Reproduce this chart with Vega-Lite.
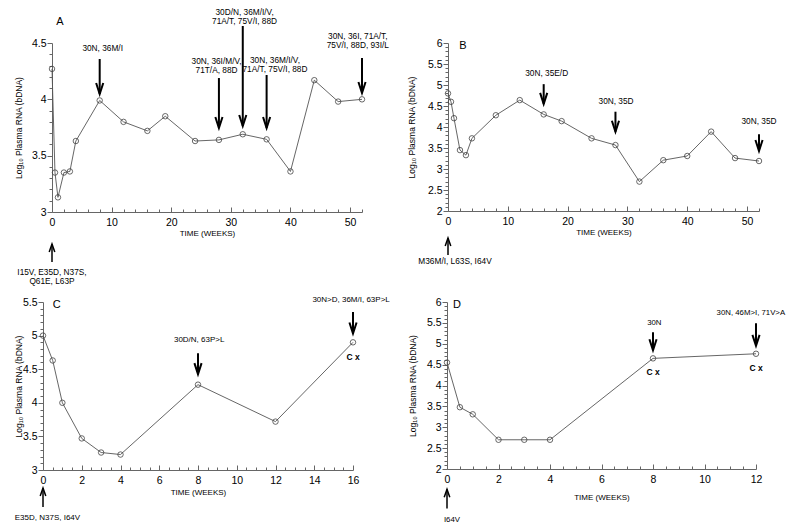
{
"$schema": "https://vega.github.io/schema/vega-lite/v6.json",
"padding": {"left": 14, "top": 7, "right": 0, "bottom": 0},
"background": "white",
"config": {"font": "Liberation Sans", "view": {"stroke": null},
  "axis": {"domainColor": "#666", "tickColor": "#666", "labelColor": "#000", "titleColor": "#000", "labelFont": "Liberation Sans", "titleFont": "Liberation Sans", "titleFontWeight": "normal", "grid": false, "labelFontSize": 10.5, "titleFontSize": 8.5, "labelFlush": false, "labelOverlap": false, "domainWidth": 1, "tickWidth": 1}},
"datasets": {
 "pts": [
  {"panel":"A","week":0,"rna":4.27},{"panel":"A","week":0.5,"rna":3.35},{"panel":"A","week":1,"rna":3.13},{"panel":"A","week":2,"rna":3.35},{"panel":"A","week":3,"rna":3.36},{"panel":"A","week":4,"rna":3.63},{"panel":"A","week":8,"rna":3.99},{"panel":"A","week":12,"rna":3.8},{"panel":"A","week":16,"rna":3.72},{"panel":"A","week":19,"rna":3.85},{"panel":"A","week":24,"rna":3.63},{"panel":"A","week":28,"rna":3.64},{"panel":"A","week":32,"rna":3.69},{"panel":"A","week":36,"rna":3.645},{"panel":"A","week":40,"rna":3.36},{"panel":"A","week":44,"rna":4.17},{"panel":"A","week":48,"rna":3.98},{"panel":"A","week":52,"rna":4.0},
  {"panel":"B","week":0,"rna":4.8},{"panel":"B","week":0.5,"rna":4.6},{"panel":"B","week":1,"rna":4.21},{"panel":"B","week":2,"rna":3.45},{"panel":"B","week":3,"rna":3.33},{"panel":"B","week":4,"rna":3.73},{"panel":"B","week":8,"rna":4.28},{"panel":"B","week":12,"rna":4.64},{"panel":"B","week":16,"rna":4.3},{"panel":"B","week":19,"rna":4.14},{"panel":"B","week":24,"rna":3.73},{"panel":"B","week":28,"rna":3.57},{"panel":"B","week":32,"rna":2.7},{"panel":"B","week":36,"rna":3.21},{"panel":"B","week":40,"rna":3.31},{"panel":"B","week":44,"rna":3.89},{"panel":"B","week":48,"rna":3.26},{"panel":"B","week":52,"rna":3.19},
  {"panel":"C","week":0,"rna":5.0},{"panel":"C","week":0.5,"rna":4.63},{"panel":"C","week":1,"rna":4.0},{"panel":"C","week":2,"rna":3.47},{"panel":"C","week":3,"rna":3.26},{"panel":"C","week":4,"rna":3.23},{"panel":"C","week":8,"rna":4.27},{"panel":"C","week":12,"rna":3.72},{"panel":"C","week":16,"rna":4.9},
  {"panel":"D","week":0,"rna":4.55},{"panel":"D","week":0.5,"rna":3.48},{"panel":"D","week":1,"rna":3.31},{"panel":"D","week":2,"rna":2.7},{"panel":"D","week":3,"rna":2.7},{"panel":"D","week":4,"rna":2.7},{"panel":"D","week":8,"rna":4.65},{"panel":"D","week":12,"rna":4.76}
 ],
 "notes": [
  {"panel":"A","dir":"down","week":8,"textX":8.5,"label":"30N, 36M/I","textY":4.447,"tail":4.358,"tip":4.047},
  {"panel":"A","dir":"down","week":28,"textX":27.6,"label":"30N, 36I/M/V,\n71T/A, 88D","textY":4.327,"tail":4.189,"tip":3.746},
  {"panel":"A","dir":"down","week":32,"textX":32.3,"label":"30D/N, 36M/I/V,\n71A/T, 75V/I, 88D","textY":4.77,"tail":4.651,"tip":3.763},
  {"panel":"A","dir":"down","week":36,"textX":37.4,"label":"30N, 36M/I/V,\n71A/T, 75V/I, 88D","textY":4.336,"tail":4.216,"tip":3.746},
  {"panel":"A","dir":"down","week":52,"textX":51.3,"label":"30N, 36I, 71A/T,\n75V/I, 88D, 93I/L","textY":4.549,"tail":4.367,"tip":4.056},
  {"panel":"A","dir":"up","week":0,"textX":0,"label":"I15V, E35D, N37S,\nQ61E, L63P","textY":2.459,"tail":2.556,"tip":2.716},
  {"panel":"B","dir":"down","week":16,"textX":16.5,"label":"30N, 35E/D","textY":5.262,"tail":5.02,"tip":4.55},
  {"panel":"B","dir":"down","week":28,"textX":28.1,"label":"30N, 35D","textY":4.6,"tail":4.364,"tip":3.888},
  {"panel":"B","dir":"down","week":52,"textX":52,"label":"30N, 35D","textY":4.126,"tail":3.826,"tip":3.429},
  {"panel":"B","dir":"up","week":0,"textX":1.17,"label":"M36M/I, L63S, I64V","textY":0.786,"tail":0.952,"tip":1.357},
  {"panel":"C","dir":"down","week":8,"textX":8.06,"label":"30D/N, 63P>L","textY":4.932,"tail":4.738,"tip":4.426},
  {"panel":"C","dir":"down","week":16,"textX":15.9,"label":"30N>D, 36M/I, 63P>L","textY":5.536,"tail":5.352,"tip":5.031},
  {"panel":"C","dir":"up","week":0,"textX":0.23,"label":"E35D, N37S, I64V","textY":2.287,"tail":2.45,"tip":2.733},
  {"panel":"D","dir":"down","week":8,"textX":8.05,"label":"30N","textY":5.498,"tail":5.273,"tip":4.844},
  {"panel":"D","dir":"down","week":12,"textX":11.8,"label":"30N, 46M>I, 71V>A","textY":5.74,"tail":5.49,"tip":4.95},
  {"panel":"D","dir":"up","week":0,"textX":0.19,"label":"I64V","textY":0.788,"tail":1.055,"tip":1.515}
 ],
 "tags": [
  {"panel":"A","kind":"letter","text":"A","week":1.34,"level":4.686},
  {"panel":"B","kind":"letter","text":"B","week":2.5,"level":5.93},
  {"panel":"C","kind":"letter","text":"C","week":0.71,"level":5.45},
  {"panel":"D","kind":"letter","text":"D","week":0.39,"level":5.92},
  {"panel":"C","kind":"cx","text":"C x","week":16,"level":4.675},
  {"panel":"D","kind":"cx","text":"C x","week":8,"level":4.32},
  {"panel":"D","kind":"cx","text":"C x","week":12,"level":4.42}
 ]
},
"concat": [
 {"hconcat": [
  {"width": 9, "height": 1, "data": {"values": []}, "mark": "point"},
  {"hconcat": [
  {"width": 310, "height": 169,
   "resolve": {"axis": {"x": "independent", "y": "independent"}},
   "layer": [
    {"data": {"name": "pts"}, "transform": [{"filter": "datum.panel == 'A'"}],
     "mark": {"type": "line", "color": "#555", "strokeWidth": 0.9},
     "encoding": {
      "x": {"field": "week", "type": "quantitative", "scale": {"domain": [0, 52], "nice": false, "zero": false},
            "axis": {"orient": "bottom", "values": [0,10,20,30,40,50], "format": "d", "tickSize": -5, "labelPadding": 10, "title": "TIME (WEEKS)", "titleFontSize": 8, "titlePadding": 2}},
      "y": {"field": "rna", "type": "quantitative", "scale": {"domain": [3, 4.5], "nice": false, "zero": false},
            "axis": {"orient": "left", "values": [3,3.5,4,4.5], "format": "~g", "tickSize": 5, "labelPadding": 1, "title": "Log₁₀ Plasma RNA (bDNA)", "titlePadding": 8}}}},
    {"data": {"name": "pts"}, "transform": [{"filter": "datum.panel == 'A'"}],
     "mark": {"type": "point", "shape": "circle", "size": 30, "filled": false, "stroke": "#444", "strokeWidth": 0.8, "opacity": 1},
     "encoding": {
      "x": {"field": "week", "type": "quantitative", "scale": {"domain": [0, 52], "nice": false, "zero": false},
            "axis": {"orient": "bottom", "values": [2,4,6,8,12,14,16,18,22,24,26,28,32,34,36,38,42,44,46,48,52], "tickSize": -3, "labels": false, "domain": false, "title": null}},
      "y": {"field": "rna", "type": "quantitative", "scale": {"domain": [3, 4.5], "nice": false, "zero": false},
            "axis": {"orient": "left", "values": [3.1,3.2,3.3,3.4,3.6,3.7,3.8,3.9,4.1,4.2,4.3,4.4], "tickSize": 3, "labels": false, "domain": false, "title": null}}}},
    {"data": {"name": "notes"}, "transform": [{"filter": "datum.panel == 'A' && datum.dir == 'down'"}],
     "mark": {"type": "rule", "color": "#000", "strokeWidth": 2},
     "encoding": {"x": {"field": "week", "type": "quantitative", "scale": {"domain": [0, 52], "nice": false, "zero": false}, "axis": null},
                  "y": {"field": "tail", "type": "quantitative", "scale": {"domain": [3, 4.5], "nice": false, "zero": false}, "axis": null},
                  "y2": {"field": "tip"}}},
    {"data": {"name": "notes"}, "transform": [{"filter": "datum.panel == 'A' && datum.dir == 'down'"}],
     "mark": {"type": "point", "shape": "M-0.65,-2L0,0L0.65,-2", "size": 121, "filled": false, "stroke": "#000", "strokeWidth": 2, "opacity": 1},
     "encoding": {"x": {"field": "week", "type": "quantitative", "scale": {"domain": [0, 52], "nice": false, "zero": false}, "axis": null},
                  "y": {"field": "tip", "type": "quantitative", "scale": {"domain": [3, 4.5], "nice": false, "zero": false}, "axis": null}}},
    {"data": {"name": "notes"}, "transform": [{"filter": "datum.panel == 'A'"}],
     "mark": {"type": "text", "fontSize": 8.3, "lineHeight": 9, "baseline": "middle", "align": "center", "lineBreak": "\n", "color": "#000"},
     "encoding": {"x": {"field": "textX", "type": "quantitative", "scale": {"domain": [0, 52], "nice": false, "zero": false}, "axis": null},
                  "y": {"field": "textY", "type": "quantitative", "scale": {"domain": [3, 4.5], "nice": false, "zero": false}, "axis": null},
                  "text": {"field": "label"}}},
    {"data": {"name": "notes"}, "transform": [{"filter": "datum.panel == 'A' && datum.dir == 'up'"}],
     "mark": {"type": "rule", "color": "#000", "strokeWidth": 1.5},
     "encoding": {"x": {"field": "week", "type": "quantitative", "scale": {"domain": [0, 52], "nice": false, "zero": false}, "axis": null},
                  "y": {"field": "tail", "type": "quantitative", "scale": {"domain": [3, 4.5], "nice": false, "zero": false}, "axis": null},
                  "y2": {"field": "tip"}}},
    {"data": {"name": "notes"}, "transform": [{"filter": "datum.panel == 'A' && datum.dir == 'up'"}],
     "mark": {"type": "point", "shape": "M-0.7,2L0,0L0.7,2", "size": 64, "filled": false, "stroke": "#000", "strokeWidth": 1.5, "opacity": 1},
     "encoding": {"x": {"field": "week", "type": "quantitative", "scale": {"domain": [0, 52], "nice": false, "zero": false}, "axis": null},
                  "y": {"field": "tip", "type": "quantitative", "scale": {"domain": [3, 4.5], "nice": false, "zero": false}, "axis": null}}},
    {"data": {"name": "tags"}, "transform": [{"filter": "datum.panel == 'A'"}],
     "mark": {"type": "text", "fontSize": 11, "baseline": "middle", "align": "center", "color": "#000"},
     "encoding": {"x": {"field": "week", "type": "quantitative", "scale": {"domain": [0, 52], "nice": false, "zero": false}, "axis": null},
                  "y": {"field": "level", "type": "quantitative", "scale": {"domain": [3, 4.5], "nice": false, "zero": false}, "axis": null},
                  "text": {"field": "text"}}}
   ]},
  {"width": 311, "height": 168,
   "resolve": {"axis": {"x": "independent", "y": "independent"}},
   "layer": [
    {"data": {"name": "pts"}, "transform": [{"filter": "datum.panel == 'B'"}],
     "mark": {"type": "line", "color": "#555", "strokeWidth": 0.9},
     "encoding": {
      "x": {"field": "week", "type": "quantitative", "scale": {"domain": [0, 52], "nice": false, "zero": false},
            "axis": {"orient": "bottom", "values": [0,10,20,30,40,50], "format": "d", "tickSize": -5, "labelPadding": 10, "title": "TIME (WEEKS)", "titleFontSize": 8, "titlePadding": 2}},
      "y": {"field": "rna", "type": "quantitative", "scale": {"domain": [2, 6], "nice": false, "zero": false},
            "axis": {"orient": "left", "values": [2,2.5,3,3.5,4,4.5,5,5.5,6], "format": "~g", "tickSize": 5, "labelPadding": 1, "title": "Log₁₀ Plasma RNA (bDNA)", "titlePadding": 11}}}},
    {"data": {"name": "pts"}, "transform": [{"filter": "datum.panel == 'B'"}],
     "mark": {"type": "point", "shape": "circle", "size": 30, "filled": false, "stroke": "#444", "strokeWidth": 0.8, "opacity": 1},
     "encoding": {
      "x": {"field": "week", "type": "quantitative", "scale": {"domain": [0, 52], "nice": false, "zero": false},
            "axis": {"orient": "bottom", "values": [2,4,6,8,12,14,16,18,22,24,26,28,32,34,36,38,42,44,46,48,52], "tickSize": -3, "labels": false, "domain": false, "title": null}},
      "y": {"field": "rna", "type": "quantitative", "scale": {"domain": [2, 6], "nice": false, "zero": false},
            "axis": {"orient": "left", "values": [2.1,2.2,2.3,2.4,2.6,2.7,2.8,2.9,3.1,3.2,3.3,3.4,3.6,3.7,3.8,3.9,4.1,4.2,4.3,4.4,4.6,4.7,4.8,4.9,5.1,5.2,5.3,5.4,5.6,5.7,5.8,5.9], "tickSize": 3, "labels": false, "domain": false, "title": null}}}},
    {"data": {"name": "notes"}, "transform": [{"filter": "datum.panel == 'B' && datum.dir == 'down'"}],
     "mark": {"type": "rule", "color": "#000", "strokeWidth": 2},
     "encoding": {"x": {"field": "week", "type": "quantitative", "scale": {"domain": [0, 52], "nice": false, "zero": false}, "axis": null},
                  "y": {"field": "tail", "type": "quantitative", "scale": {"domain": [2, 6], "nice": false, "zero": false}, "axis": null},
                  "y2": {"field": "tip"}}},
    {"data": {"name": "notes"}, "transform": [{"filter": "datum.panel == 'B' && datum.dir == 'down'"}],
     "mark": {"type": "point", "shape": "M-0.65,-2L0,0L0.65,-2", "size": 121, "filled": false, "stroke": "#000", "strokeWidth": 2, "opacity": 1},
     "encoding": {"x": {"field": "week", "type": "quantitative", "scale": {"domain": [0, 52], "nice": false, "zero": false}, "axis": null},
                  "y": {"field": "tip", "type": "quantitative", "scale": {"domain": [2, 6], "nice": false, "zero": false}, "axis": null}}},
    {"data": {"name": "notes"}, "transform": [{"filter": "datum.panel == 'B'"}],
     "mark": {"type": "text", "fontSize": 8.3, "lineHeight": 9, "baseline": "middle", "align": "center", "lineBreak": "\n", "color": "#000"},
     "encoding": {"x": {"field": "textX", "type": "quantitative", "scale": {"domain": [0, 52], "nice": false, "zero": false}, "axis": null},
                  "y": {"field": "textY", "type": "quantitative", "scale": {"domain": [2, 6], "nice": false, "zero": false}, "axis": null},
                  "text": {"field": "label"}}},
    {"data": {"name": "notes"}, "transform": [{"filter": "datum.panel == 'B' && datum.dir == 'up'"}],
     "mark": {"type": "rule", "color": "#000", "strokeWidth": 1.5},
     "encoding": {"x": {"field": "week", "type": "quantitative", "scale": {"domain": [0, 52], "nice": false, "zero": false}, "axis": null},
                  "y": {"field": "tail", "type": "quantitative", "scale": {"domain": [2, 6], "nice": false, "zero": false}, "axis": null},
                  "y2": {"field": "tip"}}},
    {"data": {"name": "notes"}, "transform": [{"filter": "datum.panel == 'B' && datum.dir == 'up'"}],
     "mark": {"type": "point", "shape": "M-0.7,2L0,0L0.7,2", "size": 64, "filled": false, "stroke": "#000", "strokeWidth": 1.5, "opacity": 1},
     "encoding": {"x": {"field": "week", "type": "quantitative", "scale": {"domain": [0, 52], "nice": false, "zero": false}, "axis": null},
                  "y": {"field": "tip", "type": "quantitative", "scale": {"domain": [2, 6], "nice": false, "zero": false}, "axis": null}}},
    {"data": {"name": "tags"}, "transform": [{"filter": "datum.panel == 'B'"}],
     "mark": {"type": "text", "fontSize": 11, "baseline": "middle", "align": "center", "color": "#000"},
     "encoding": {"x": {"field": "week", "type": "quantitative", "scale": {"domain": [0, 52], "nice": false, "zero": false}, "axis": null},
                  "y": {"field": "level", "type": "quantitative", "scale": {"domain": [2, 6], "nice": false, "zero": false}, "axis": null},
                  "text": {"field": "text"}}}
   ]}
  ], "spacing": 86, "bounds": "flush"}
 ], "spacing": 0, "bounds": "flush"},
 {"hconcat": [
  {"width": 310, "height": 168,
   "resolve": {"axis": {"x": "independent", "y": "independent"}},
   "layer": [
    {"data": {"name": "pts"}, "transform": [{"filter": "datum.panel == 'C'"}],
     "mark": {"type": "line", "color": "#555", "strokeWidth": 0.9},
     "encoding": {
      "x": {"field": "week", "type": "quantitative", "scale": {"domain": [0, 16], "nice": false, "zero": false},
            "axis": {"orient": "bottom", "values": [0,2,4,6,8,10,12,14,16], "format": "d", "tickSize": -5, "labelPadding": 10, "title": "TIME (WEEKS)", "titleFontSize": 8, "titlePadding": 3}},
      "y": {"field": "rna", "type": "quantitative", "scale": {"domain": [3, 5.5], "nice": false, "zero": false},
            "axis": {"orient": "left", "values": [3,3.5,4,4.5,5,5.5], "format": "~g", "tickSize": 5, "labelPadding": 1, "title": "Log₁₀ Plasma RNA (bDNA)", "titlePadding": -1}}}},
    {"data": {"name": "pts"}, "transform": [{"filter": "datum.panel == 'C'"}],
     "mark": {"type": "point", "shape": "circle", "size": 30, "filled": false, "stroke": "#444", "strokeWidth": 0.8, "opacity": 1},
     "encoding": {
      "x": {"field": "week", "type": "quantitative", "scale": {"domain": [0, 16], "nice": false, "zero": false},
            "axis": {"orient": "bottom", "values": [0.5,1,1.5,2.5,3,3.5,4.5,5,5.5,6.5,7,7.5,8.5,9,9.5,10.5,11,11.5,12.5,13,13.5,14.5,15,15.5], "tickSize": -3, "labels": false, "domain": false, "title": null}},
      "y": {"field": "rna", "type": "quantitative", "scale": {"domain": [3, 5.5], "nice": false, "zero": false},
            "axis": {"orient": "left", "values": [3.1,3.2,3.3,3.4,3.6,3.7,3.8,3.9,4.1,4.2,4.3,4.4,4.6,4.7,4.8,4.9,5.1,5.2,5.3,5.4], "tickSize": 3, "labels": false, "domain": false, "title": null}}}},
    {"data": {"name": "notes"}, "transform": [{"filter": "datum.panel == 'C' && datum.dir == 'down'"}],
     "mark": {"type": "rule", "color": "#000", "strokeWidth": 2},
     "encoding": {"x": {"field": "week", "type": "quantitative", "scale": {"domain": [0, 16], "nice": false, "zero": false}, "axis": null},
                  "y": {"field": "tail", "type": "quantitative", "scale": {"domain": [3, 5.5], "nice": false, "zero": false}, "axis": null},
                  "y2": {"field": "tip"}}},
    {"data": {"name": "notes"}, "transform": [{"filter": "datum.panel == 'C' && datum.dir == 'down'"}],
     "mark": {"type": "point", "shape": "M-0.65,-2L0,0L0.65,-2", "size": 121, "filled": false, "stroke": "#000", "strokeWidth": 2, "opacity": 1},
     "encoding": {"x": {"field": "week", "type": "quantitative", "scale": {"domain": [0, 16], "nice": false, "zero": false}, "axis": null},
                  "y": {"field": "tip", "type": "quantitative", "scale": {"domain": [3, 5.5], "nice": false, "zero": false}, "axis": null}}},
    {"data": {"name": "notes"}, "transform": [{"filter": "datum.panel == 'C'"}],
     "mark": {"type": "text", "fontSize": 8, "lineHeight": 9, "baseline": "middle", "align": "center", "lineBreak": "\n", "color": "#000"},
     "encoding": {"x": {"field": "textX", "type": "quantitative", "scale": {"domain": [0, 16], "nice": false, "zero": false}, "axis": null},
                  "y": {"field": "textY", "type": "quantitative", "scale": {"domain": [3, 5.5], "nice": false, "zero": false}, "axis": null},
                  "text": {"field": "label"}}},
    {"data": {"name": "notes"}, "transform": [{"filter": "datum.panel == 'C' && datum.dir == 'up'"}],
     "mark": {"type": "rule", "color": "#000", "strokeWidth": 1.5},
     "encoding": {"x": {"field": "week", "type": "quantitative", "scale": {"domain": [0, 16], "nice": false, "zero": false}, "axis": null},
                  "y": {"field": "tail", "type": "quantitative", "scale": {"domain": [3, 5.5], "nice": false, "zero": false}, "axis": null},
                  "y2": {"field": "tip"}}},
    {"data": {"name": "notes"}, "transform": [{"filter": "datum.panel == 'C' && datum.dir == 'up'"}],
     "mark": {"type": "point", "shape": "M-0.7,2L0,0L0.7,2", "size": 64, "filled": false, "stroke": "#000", "strokeWidth": 1.5, "opacity": 1},
     "encoding": {"x": {"field": "week", "type": "quantitative", "scale": {"domain": [0, 16], "nice": false, "zero": false}, "axis": null},
                  "y": {"field": "tip", "type": "quantitative", "scale": {"domain": [3, 5.5], "nice": false, "zero": false}, "axis": null}}},
    {"data": {"name": "tags"}, "transform": [{"filter": "datum.panel == 'C' && datum.kind == 'letter'"}],
     "mark": {"type": "text", "fontSize": 11, "baseline": "middle", "align": "center", "color": "#000"},
     "encoding": {"x": {"field": "week", "type": "quantitative", "scale": {"domain": [0, 16], "nice": false, "zero": false}, "axis": null},
                  "y": {"field": "level", "type": "quantitative", "scale": {"domain": [3, 5.5], "nice": false, "zero": false}, "axis": null},
                  "text": {"field": "text"}}},
    {"data": {"name": "tags"}, "transform": [{"filter": "datum.panel == 'C' && datum.kind == 'cx'"}],
     "mark": {"type": "text", "fontSize": 8.5, "fontWeight": "bold", "baseline": "middle", "align": "center", "color": "#000"},
     "encoding": {"x": {"field": "week", "type": "quantitative", "scale": {"domain": [0, 16], "nice": false, "zero": false}, "axis": null},
                  "y": {"field": "level", "type": "quantitative", "scale": {"domain": [3, 5.5], "nice": false, "zero": false}, "axis": null},
                  "text": {"field": "text"}}}
   ]},
  {"width": 309, "height": 167,
   "resolve": {"axis": {"x": "independent", "y": "independent"}},
   "layer": [
    {"data": {"name": "pts"}, "transform": [{"filter": "datum.panel == 'D'"}],
     "mark": {"type": "line", "color": "#555", "strokeWidth": 0.9},
     "encoding": {
      "x": {"field": "week", "type": "quantitative", "scale": {"domain": [0, 12], "nice": false, "zero": false},
            "axis": {"orient": "bottom", "values": [0,2,4,6,8,10,12], "format": "d", "tickSize": -5, "labelPadding": 10, "title": "TIME (WEEKS)", "titleFontSize": 8, "titlePadding": 9}},
      "y": {"field": "rna", "type": "quantitative", "scale": {"domain": [2, 6], "nice": false, "zero": false},
            "axis": {"orient": "left", "values": [2,2.5,3,3.5,4,4.5,5,5.5,6], "format": "~g", "tickSize": 5, "labelPadding": 1, "title": "Log₁₀ Plasma RNA (bDNA)", "titlePadding": 9}}}},
    {"data": {"name": "pts"}, "transform": [{"filter": "datum.panel == 'D'"}],
     "mark": {"type": "point", "shape": "circle", "size": 30, "filled": false, "stroke": "#444", "strokeWidth": 0.8, "opacity": 1},
     "encoding": {
      "x": {"field": "week", "type": "quantitative", "scale": {"domain": [0, 12], "nice": false, "zero": false},
            "axis": {"orient": "bottom", "values": [0.5,1,1.5,2.5,3,3.5,4.5,5,5.5,6.5,7,7.5,8.5,9,9.5,10.5,11,11.5], "tickSize": -3, "labels": false, "domain": false, "title": null}},
      "y": {"field": "rna", "type": "quantitative", "scale": {"domain": [2, 6], "nice": false, "zero": false},
            "axis": {"orient": "left", "values": [2.1,2.2,2.3,2.4,2.6,2.7,2.8,2.9,3.1,3.2,3.3,3.4,3.6,3.7,3.8,3.9,4.1,4.2,4.3,4.4,4.6,4.7,4.8,4.9,5.1,5.2,5.3,5.4,5.6,5.7,5.8,5.9], "tickSize": 3, "labels": false, "domain": false, "title": null}}}},
    {"data": {"name": "notes"}, "transform": [{"filter": "datum.panel == 'D' && datum.dir == 'down'"}],
     "mark": {"type": "rule", "color": "#000", "strokeWidth": 2},
     "encoding": {"x": {"field": "week", "type": "quantitative", "scale": {"domain": [0, 12], "nice": false, "zero": false}, "axis": null},
                  "y": {"field": "tail", "type": "quantitative", "scale": {"domain": [2, 6], "nice": false, "zero": false}, "axis": null},
                  "y2": {"field": "tip"}}},
    {"data": {"name": "notes"}, "transform": [{"filter": "datum.panel == 'D' && datum.dir == 'down'"}],
     "mark": {"type": "point", "shape": "M-0.65,-2L0,0L0.65,-2", "size": 121, "filled": false, "stroke": "#000", "strokeWidth": 2, "opacity": 1},
     "encoding": {"x": {"field": "week", "type": "quantitative", "scale": {"domain": [0, 12], "nice": false, "zero": false}, "axis": null},
                  "y": {"field": "tip", "type": "quantitative", "scale": {"domain": [2, 6], "nice": false, "zero": false}, "axis": null}}},
    {"data": {"name": "notes"}, "transform": [{"filter": "datum.panel == 'D'"}],
     "mark": {"type": "text", "fontSize": 7.8, "lineHeight": 9, "baseline": "middle", "align": "center", "lineBreak": "\n", "color": "#000"},
     "encoding": {"x": {"field": "textX", "type": "quantitative", "scale": {"domain": [0, 12], "nice": false, "zero": false}, "axis": null},
                  "y": {"field": "textY", "type": "quantitative", "scale": {"domain": [2, 6], "nice": false, "zero": false}, "axis": null},
                  "text": {"field": "label"}}},
    {"data": {"name": "notes"}, "transform": [{"filter": "datum.panel == 'D' && datum.dir == 'up'"}],
     "mark": {"type": "rule", "color": "#000", "strokeWidth": 1.5},
     "encoding": {"x": {"field": "week", "type": "quantitative", "scale": {"domain": [0, 12], "nice": false, "zero": false}, "axis": null},
                  "y": {"field": "tail", "type": "quantitative", "scale": {"domain": [2, 6], "nice": false, "zero": false}, "axis": null},
                  "y2": {"field": "tip"}}},
    {"data": {"name": "notes"}, "transform": [{"filter": "datum.panel == 'D' && datum.dir == 'up'"}],
     "mark": {"type": "point", "shape": "M-0.7,2L0,0L0.7,2", "size": 64, "filled": false, "stroke": "#000", "strokeWidth": 1.5, "opacity": 1},
     "encoding": {"x": {"field": "week", "type": "quantitative", "scale": {"domain": [0, 12], "nice": false, "zero": false}, "axis": null},
                  "y": {"field": "tip", "type": "quantitative", "scale": {"domain": [2, 6], "nice": false, "zero": false}, "axis": null}}},
    {"data": {"name": "tags"}, "transform": [{"filter": "datum.panel == 'D' && datum.kind == 'letter'"}],
     "mark": {"type": "text", "fontSize": 11, "baseline": "middle", "align": "center", "color": "#000"},
     "encoding": {"x": {"field": "week", "type": "quantitative", "scale": {"domain": [0, 12], "nice": false, "zero": false}, "axis": null},
                  "y": {"field": "level", "type": "quantitative", "scale": {"domain": [2, 6], "nice": false, "zero": false}, "axis": null},
                  "text": {"field": "text"}}},
    {"data": {"name": "tags"}, "transform": [{"filter": "datum.panel == 'D' && datum.kind == 'cx'"}],
     "mark": {"type": "text", "fontSize": 8.5, "fontWeight": "bold", "baseline": "middle", "align": "center", "color": "#000"},
     "encoding": {"x": {"field": "week", "type": "quantitative", "scale": {"domain": [0, 12], "nice": false, "zero": false}, "axis": null},
                  "y": {"field": "level", "type": "quantitative", "scale": {"domain": [2, 6], "nice": false, "zero": false}, "axis": null},
                  "text": {"field": "text"}}}
   ]}
 ], "spacing": 94, "bounds": "flush"}
],
"columns": 1,
"spacing": 9
}
